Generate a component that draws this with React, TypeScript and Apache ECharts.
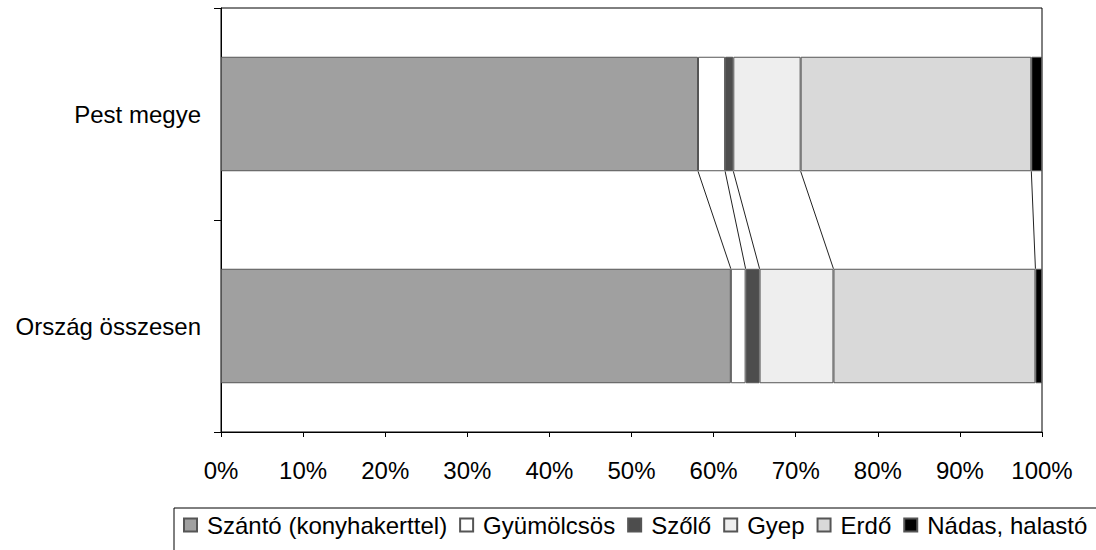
import React, { useEffect, useRef } from "react";
import * as echarts from "echarts";

const categories = ["Ország összesen", "Pest megye"];
const seriesNames = ["Szántó (konyhakerttel)", "Gyümölcsös", "Szőlő", "Gyep", "Erdő", "Nádas, halastó"];
const seriesColors = ["#a0a0a0", "#ffffff", "#4d4d4d", "#eeeeee", "#d9d9d9", "#000000"];
// values per series: [Ország összesen, Pest megye] in %
const szanto = [62.1, 58.1];
const gyumolcsos = [1.8, 3.3];
const szolo = [1.7, 1.0];
const gyep = [9.0, 8.2];
const erdo = [24.6, 28.1];
const nadas = [0.8, 1.3];
const xTicks = [0, 10, 20, 30, 40, 50, 60, 70, 80, 90, 100];

const FONT = "'Liberation Sans', Arial, sans-serif";

export default function App() {
  const ref = useRef<HTMLDivElement>(null);
  useEffect(() => {
    if (!ref.current) return;
    const chart = echarts.init(ref.current, undefined, { renderer: "svg" });
    const values = [szanto, gyumolcsos, szolo, gyep, erdo, nadas];
    const barFrac = 0.54;
    const lineData: number[][] = [];
    let cO = 0, cP = 0;
    for (let i = 0; i < values.length - 1; i++) {
      cO += values[i][0];
      cP += values[i][1];
      lineData.push([cP, cO, 0]);
    }
    const bars = seriesNames.map((name, i) => ({
      name,
      type: "bar",
      stack: "total",
      barWidth: "54%",
      data: values[i],
      itemStyle: { color: seriesColors[i], borderColor: "#555", borderWidth: 1 },
      emphasis: { disabled: true },
    }));
    chart.setOption({
      animation: false,
      grid: { left: 221, right: 54, top: 8, bottom: 118, show: true, borderColor: "#000", borderWidth: 1, backgroundColor: "transparent" },
      xAxis: {
        type: "value",
        min: xTicks[0],
        max: xTicks[xTicks.length - 1],
        interval: 10,
        axisLine: { show: true, lineStyle: { color: "#000", width: 1 } },
        axisTick: { show: true, length: 5, lineStyle: { color: "#000" } },
        splitLine: { show: false },
        axisLabel: { formatter: "{value}%", color: "#000", fontSize: 24, fontFamily: FONT, margin: 26 },
      },
      yAxis: {
        type: "category",
        data: categories,
        axisLine: { show: true, lineStyle: { color: "#000", width: 1 } },
        axisTick: { show: true, length: 7, lineStyle: { color: "#000" } },
        axisLabel: { color: "#000", fontSize: 24, fontFamily: FONT, margin: 20 },
      },
      legend: {
        data: seriesNames,
        left: 174,
        top: 508,
        width: 940,
        orient: "horizontal",
        itemWidth: 13,
        itemHeight: 13,
        itemGap: 12,
        padding: [5, 14, 40, 9],
        borderColor: "#000",
        borderWidth: 1,
        icon: "rect",
        selectedMode: false,
        textStyle: { color: "#000", fontSize: 24, fontFamily: FONT, padding: [0, 0, 0, 5] },
      },
      series: [
        ...bars,
        {
          type: "custom",
          name: "seriesLines",
          data: lineData,
          encode: { x: 0, y: 2 },
          clip: false,
          silent: true,
          z: 5,
          renderItem: (params: any, api: any) => {
            const p = api.coord([api.value(0), 1]);
            const o = api.coord([api.value(1), 0]);
            const band = api.size([0, 1])[1];
            const half = (band * barFrac) / 2;
            return {
              type: "line",
              shape: { x1: p[0], y1: p[1] + half, x2: o[0], y2: o[1] - half },
              style: { stroke: "#222", lineWidth: 1 },
            };
          },
        },
      ],
    });
    return () => chart.dispose();
  }, []);
  return <div ref={ref} style={{ width: 1096, height: 550, position: "absolute", left: 0, top: 0 }} />;
}
